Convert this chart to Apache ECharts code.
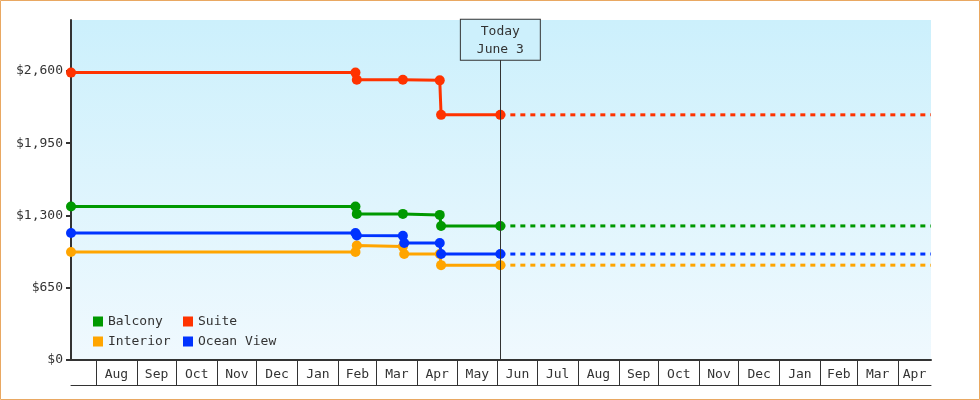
<!DOCTYPE html>
<html>
<head>
<meta charset="utf-8">
<script src="https://cdn.jsdelivr.net/npm/echarts@6/dist/echarts.min.js"></script>
<style>
html,body{margin:0;padding:0;background:#fff;}
#chart{width:980px;height:400px;}
</style>
</head>
<body>
<div id="chart"></div>
<script>
// ---- data ----
const xMin = '2023-07-13';
const xMax = '2025-04-26';
const today = '2024-06-03';
const todayLabel = 'Today\nJune 3';

const monthStarts = ['2023-08-01','2023-09-01','2023-10-01','2023-11-01','2023-12-01',
  '2024-01-01','2024-02-01','2024-03-01','2024-04-01','2024-05-01','2024-06-01','2024-07-01',
  '2024-08-01','2024-09-01','2024-10-01','2024-11-01','2024-12-01',
  '2025-01-01','2025-02-01','2025-03-01','2025-04-01'];
const monthLabels = ['Aug','Sep','Oct','Nov','Dec','Jan','Feb','Mar','Apr','May','Jun','Jul',
  'Aug','Sep','Oct','Nov','Dec','Jan','Feb','Mar','Apr'];

const yTicks = [0, 650, 1300, 1950, 2600];
const yMax = 3058;
const todayBoxBottom = 2700;

const balconyDates = ['2023-07-13','2024-02-14','2024-02-15','2024-03-21','2024-04-18','2024-04-19','2024-06-03'];
const balconyPrices = [1380, 1380, 1314, 1314, 1305, 1206, 1206];

const suiteDates = ['2023-07-13','2024-02-14','2024-02-15','2024-03-21','2024-04-18','2024-04-19','2024-06-03'];
const suitePrices = [2585, 2585, 2520, 2520, 2515, 2205, 2205];

const interiorDates = ['2023-07-13','2024-02-14','2024-02-15','2024-03-21','2024-03-22','2024-04-18','2024-04-19','2024-06-03'];
const interiorPrices = [971, 971, 1030, 1020, 953, 953, 853, 853];

const oceanDates = ['2023-07-13','2024-02-14','2024-02-15','2024-03-21','2024-03-22','2024-04-18','2024-04-19','2024-06-03'];
const oceanPrices = [1142, 1142, 1120, 1118, 1052, 1052, 953, 953];

// ---- helpers ----
function t(s){ const p = s.split('-').map(Number); return Date.UTC(p[0], p[1]-1, p[2]); }
const FONT = 'DejaVu Sans Mono';
const INK = '#333333';

const tickValues = monthStarts.map(t);
const labelValues = monthStarts.map((s, i) => {
  const a = t(s);
  const b = i + 1 < monthStarts.length ? t(monthStarts[i+1]) : t(xMax);
  return Math.round((a + b) / 2);
});
const labelMap = new Map(labelValues.map((v, i) => [v, monthLabels[i]]));

function pairs(dates, prices){ return dates.map((d, i) => [t(d), prices[i]]); }
function forecast(prices){ const v = prices[prices.length-1]; return [[t(today), v], [t(xMax), v]]; }

const seriesDefs = [
  {name:'Balcony', color:'#009900', dates: balconyDates, prices: balconyPrices},
  {name:'Suite', color:'#FF3300', dates: suiteDates, prices: suitePrices},
  {name:'Interior', color:'#FFA500', dates: interiorDates, prices: interiorPrices},
  {name:'Ocean View', color:'#0033FF', dates: oceanDates, prices: oceanPrices}
];

const series = [];
seriesDefs.forEach(d => {
  series.push({
    name: d.name, type: 'line', data: pairs(d.dates, d.prices),
    symbol: 'circle', symbolSize: 10, showAllSymbol: true,
    color: d.color,
    itemStyle: {color: d.color, borderWidth: 0},
    lineStyle: {color: d.color, width: 3},
    emphasis: {disabled: true}, z: 3
  });
});
seriesDefs.forEach(d => {
  series.push({
    name: d.name, type: 'line', data: forecast(d.prices),
    symbol: 'none', showSymbol: false,
    color: d.color,
    itemStyle: {color: d.color, borderWidth: 0},
    lineStyle: {color: d.color, width: 3, type: [5, 5]},
    emphasis: {disabled: true}, z: 2
  });
});
// today marker
series[1].markLine = {
  silent: true, animation: false,
  symbol: ['none', 'none'],
  lineStyle: {color: INK, width: 1, type: 'solid'},
  label: {
    show: true, position: 'end', distance: 0,
    formatter: todayLabel,
    color: INK, fontFamily: FONT, fontSize: 13, lineHeight: 18,
    backgroundColor: '#cdf0fc', borderColor: INK, borderWidth: 1,
    padding: [3, 16, 1, 16], align: 'center'
  },
  emphasis: {disabled: true},
  data: [[{coord: [t(today), 0]}, {coord: [t(today), todayBoxBottom]}]]
};

const chart = echarts.init(document.getElementById('chart'), null, {renderer: 'canvas'});
chart.setOption({
  animation: false,
  backgroundColor: '#ffffff',
  textStyle: {fontFamily: FONT},
  grid: {
    left: 71, right: 49, top: 20, bottom: 40,
    show: true, borderWidth: 0,
    outerBoundsMode: 'none',
    backgroundColor: new echarts.graphic.LinearGradient(0, 0, 0, 1, [
      {offset: 0, color: '#ccf0fc'}, {offset: 1, color: '#f0f9fe'}
    ])
  },
  graphic: [{
    type: 'rect', silent: true, z: 100,
    shape: {x: 0.5, y: 0.5, width: 979, height: 399},
    style: {fill: 'none', stroke: '#E9A862', lineWidth: 1}
  }],
  legend: [{
    data: ['Balcony', 'Interior'], orient: 'vertical', left: 93, top: 315,
    padding: 0, itemGap: 7, itemWidth: 10, itemHeight: 10, icon: 'rect',
    itemStyle: {borderWidth: 0},
    textStyle: {color: INK, fontFamily: FONT, fontSize: 13}
  }, {
    data: ['Suite', 'Ocean View'], orient: 'vertical', left: 183, top: 315,
    padding: 0, itemGap: 7, itemWidth: 10, itemHeight: 10, icon: 'rect',
    itemStyle: {borderWidth: 0},
    textStyle: {color: INK, fontFamily: FONT, fontSize: 13}
  }],
  xAxis: [{
    type: 'value', min: t(xMin), max: t(xMax), position: 'bottom', scale: true,
    axisLine: {show: true, onZero: false, lineStyle: {color: INK, width: 2}},
    axisTick: {show: true, inside: false, length: 25, customValues: tickValues,
      lineStyle: {color: INK, width: 1}},
    axisLabel: {show: true, customValues: labelValues, margin: 8,
      color: INK, fontFamily: FONT, fontSize: 13,
      formatter: v => labelMap.get(v) || ''},
    splitLine: {show: false}
  }, {
    type: 'value', min: t(xMin), max: t(xMax), position: 'bottom', offset: 25, scale: true,
    axisLine: {show: true, onZero: false, lineStyle: {color: INK, width: 1}},
    axisTick: {show: false}, axisLabel: {show: false}, splitLine: {show: false}
  }],
  yAxis: {
    type: 'value', min: 0, max: yMax,
    axisLine: {show: true, lineStyle: {color: INK, width: 2}},
    axisTick: {show: true, length: 5, customValues: yTicks, lineStyle: {color: INK, width: 2}},
    axisLabel: {show: true, customValues: yTicks, margin: 8, color: INK,
      fontFamily: FONT, fontSize: 13,
      formatter: v => '$' + Number(v).toLocaleString('en-US')},
    splitLine: {show: false}
  },
  tooltip: {show: false},
  series: series
});
</script>
</body>
</html>
